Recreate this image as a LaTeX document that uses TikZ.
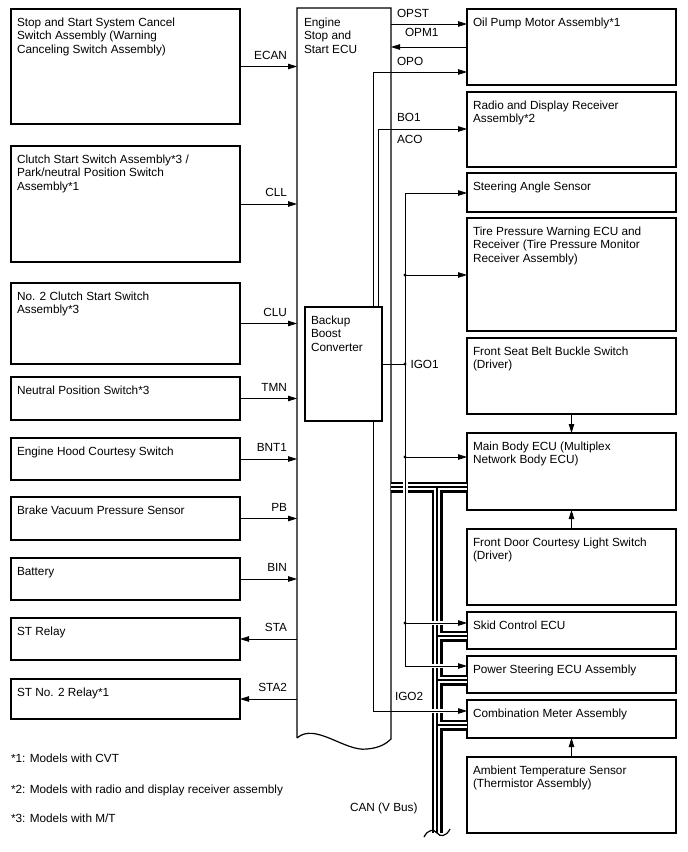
\documentclass[tikz,border=0pt]{standalone}
\usepackage{fontspec}
\setmainfont{Liberation Sans}
\usetikzlibrary{arrows.meta}
\newcommand\boxtext[1]{\begin{tabular}[t]{@{}l@{}}#1\end{tabular}}
\newcommand\mkbox[6]{%
  \node[boxst, minimum width={(#4-#2)*1bp}, minimum height={(#5-#3)*1bp}] (#1) at (#2,#3) {};
  \node[txt] (#1-t) at ({#2+6},{#3+17.5}) {\boxtext{#6}};}
\begin{document}
\begin{tikzpicture}[x=1bp,y=-1bp,
  boxst/.style={draw, line width=1.2bp, inner sep=0pt, outer sep=0pt, anchor=north west},
  txt/.style={inner sep=0pt, outer sep=0pt, anchor=base west, font=\fontsize{11.8bp}{13.4bp}\selectfont},
  labr/.style={txt, anchor=base east},
  wire/.style={line width=0.8bp},
  arr/.style={wire, -{Triangle[length=9bp,width=5.5bp]}},
  jdot/.style={circle, fill, inner sep=0pt, minimum size=3.2bp},
  busblack/.style={line width=11bp},
  buswhite/.style={white, line width=6.6bp},
  buscore/.style={line width=1.1bp}]
\fill[white] (0,0) rectangle (688,852);
\useasboundingbox (0,0) rectangle (688,852);

% left boxes
\mkbox{b1}{11}{9}{240}{124}{Stop and Start System Cancel\\Switch Assembly (Warning\\Canceling Switch Assembly)}
\mkbox{b2}{11}{146}{240}{262}{Clutch Start Switch Assembly*3 /\\Park/neutral Position Switch\\Assembly*1}
\mkbox{b3}{11}{283}{240}{364}{No. 2 Clutch Start Switch\\Assembly*3}
\mkbox{b4}{11}{377}{240}{420}{Neutral Position Switch*3}
\mkbox{b5}{11}{438}{240}{480}{Engine Hood Courtesy Switch}
\mkbox{b6}{11}{497}{240}{540}{Brake Vacuum Pressure Sensor}
\mkbox{b7}{11}{558}{240}{600}{Battery}
\mkbox{b8}{11}{618}{240}{660}{ST Relay}
\mkbox{b9}{11}{679}{240}{719}{ST No. 2 Relay*1}

% right boxes
\mkbox{r1}{467}{9}{676}{85}{Oil Pump Motor Assembly*1}
\mkbox{r2}{467}{92}{676}{167}{Radio and Display Receiver\\Assembly*2}
\mkbox{r3}{467}{173}{676}{212}{Steering Angle Sensor}
\mkbox{r4}{467}{218}{676}{331}{Tire Pressure Warning ECU and\\Receiver (Tire Pressure Monitor\\Receiver Assembly)}
\mkbox{r5}{467}{338}{676}{414}{Front Seat Belt Buckle Switch\\(Driver)}
\mkbox{r6}{467}{433}{676}{510}{Main Body ECU (Multiplex\\Network Body ECU)}
\mkbox{r7}{467}{529}{676}{605}{Front Door Courtesy Light Switch\\(Driver)}
\mkbox{r8}{467}{612}{676}{649}{Skid Control ECU}
\mkbox{r9}{467}{656}{676}{693}{Power Steering ECU Assembly}
\mkbox{r10}{467}{700}{676}{738}{Combination Meter Assembly}
\mkbox{r11}{467}{757}{676}{833}{Ambient Temperature Sensor\\(Thermistor Assembly)}

% ECU
\node[inner sep=0pt, outer sep=0pt, minimum width=94bp, minimum height=731bp, anchor=north west] (ecu) at (297,8) {};
\draw[line width=1.2bp] (297,738) -- (297,8) -- (391,8) -- (391,739)
  .. controls (387,743) and (380,748) .. (367,749)
  .. controls (345,752) and (315,722) .. (297,738);
\node[txt] (ecu-t) at (304,26.5) {\boxtext{Engine\\Stop and\\Start ECU}};

% converter
\mkbox{conv}{305}{307}{382}{421}{Backup\\Boost\\Converter}

% left connectors
\foreach \b/\l in {b1/ECAN,b2/CLL,b3/CLU,b4/TMN,b5/BNT1,b6/PB,b7/BIN}{
  \draw[arr] (\b.east) -- (\b.east -| ecu.west);
  \path (\b.east -| ecu.west) ++(-10,-7.5) node[labr] (l-\l) {\l};}
\foreach \b/\l in {b8/STA,b9/STA2}{
  \draw[arr] (\b.east -| ecu.west) -- (\b.east);
  \path (\b.east -| ecu.west) ++(-10,-7.5) node[labr] (l-\l) {\l};}

% CAN bus
\def\buspaths{(391,487) -- (467,487) (437,487) -- (437,833) (437,636) -- (467,636) (437,680) -- (467,680) (437,725) -- (467,725)}
\draw[busblack] \buspaths;
\draw[buswhite] \buspaths;
\draw[buscore] \buspaths;
\draw[line width=1.2bp] (424,837) .. controls (428,829) and (434,829) .. (437,833)
  .. controls (440,837) and (446,837) .. (450,829);
% crossing gaps
\fill[white] (402.5,480) rectangle (407.5,494);
\foreach \yy in {623,666,711} \fill[white] (430,\yy-2) rectangle (444,\yy+2);

% right connectors
\coordinate (pOPST) at (391,24);
\coordinate (pOPM) at (391,47);
\coordinate (jOPO) at (373,72);
\coordinate (jBO) at (378,129);
\coordinate (jIG) at (405,364);
\coordinate (i1) at (405,193);
\coordinate (i2) at (405,275);
\coordinate (i3) at (405,457);
\coordinate (i4) at (405,623);
\coordinate (i5) at (405,666);
\coordinate (jIG2) at (373,711);

\draw[arr] (pOPST) -- (pOPST -| r1.west);
\draw[arr] (pOPM -| r1.west) -- (pOPM);
\draw[arr] (conv.north -| jOPO) -- (jOPO) -- (jOPO -| r1.west);
\draw[arr] (conv.north -| jBO) -- (jBO) -- (jBO -| r2.west);
\draw[wire] (conv.east |- jIG) -- (jIG);
\draw[wire] (i1) -- (i5);
\foreach \c/\r in {i1/r3,i2/r4,i3/r6,i4/r8,i5/r9} \draw[arr] (\c) -- (\c -| \r.west);
\draw[arr] (conv.south -| jIG2) -- (jIG2) -- (jIG2 -| r10.west);
\draw[arr] (r5.south) -- (r6.north);
\draw[arr] (r7.north) -- (r6.south);
\draw[arr] (r11.north) -- (r10.south);

\node[jdot] (d1) at (i2) {};
\node[jdot] (d2) at (jIG) {};
\node[jdot] (d3) at (i3) {};
\node[jdot] (d4) at (i4) {};

% labels
\node[txt] (l-OPST) at (397,17) {OPST};
\node[txt] (l-OPM1) at (405,36.5) {OPM1};
\node[txt] (l-OPO) at (397,65.5) {OPO};
\node[txt] (l-BO1) at (397,121) {BO1};
\node[txt] (l-ACO) at (397,143.5) {ACO};
\node[txt] (l-IGO1) at (410.5,368) {IGO1};
\node[txt] (l-IGO2) at (395,700) {IGO2};
\node[txt] (l-CAN) at (350,811.5) {CAN (V Bus)};

% footnotes
\node[txt] (f1) at (11,762.5) {*1: Models with CVT};
\node[txt] (f2) at (11,793.5) {*2: Models with radio and display receiver assembly};
\node[txt] (f3) at (11,822.5) {*3: Models with M/T};
\end{tikzpicture}
\end{document}
